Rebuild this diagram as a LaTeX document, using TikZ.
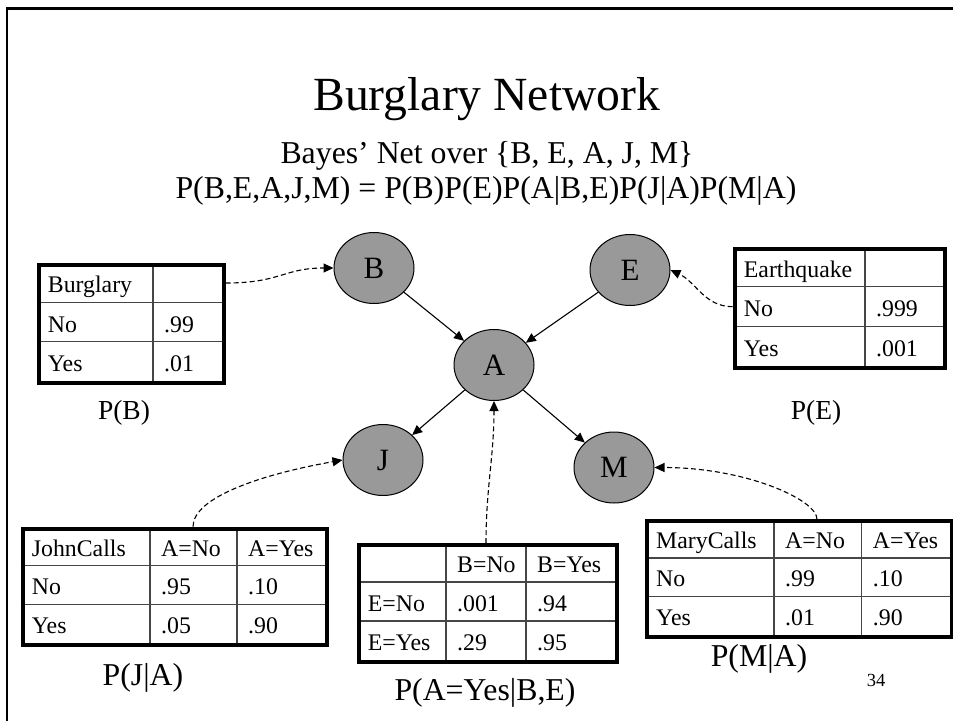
\documentclass[tikz,border=0pt]{standalone}
\usepackage{fontspec}
\setmainfont{Liberation Serif}
\usetikzlibrary{shapes.geometric,arrows.meta}
\definecolor{nodegray}{RGB}{153,153,153}
\definecolor{gridgray}{RGB}{70,70,70}
\newcommand{\fsz}[1]{\fontsize{#1}{#1}\selectfont}
\begin{document}
\begin{tikzpicture}[x=1pt,y=1pt,
  bnode/.style={ellipse,draw=black,line width=1pt,fill=nodegray,minimum width=80pt,minimum height=71pt,inner sep=0pt,font=\fsz{31}},
  arr/.style={-{Triangle[length=10pt,width=9pt]},line width=1.1pt},
  darr/.style={arr,dash pattern=on 5pt off 3pt},
  cell/.style={anchor=base west,inner sep=0pt,font=\fsz{23.8}},
  tframe/.style={draw=black,line width=4pt,inner sep=0pt,anchor=north west},
  gridline/.style={draw=gridgray,line width=1.3pt},
  lbl/.style={anchor=base,inner sep=0pt},
]
\useasboundingbox (0,0) rectangle (953,-721);
% slide frame
\draw[line width=2.6pt] (7,-721) -- (7,-8.6) -- (953,-8.6);

% titles
\node[lbl,font=\fsz{47.6}] (title) at (486.7,-110) {Burglary Network};
\node[lbl,font=\fsz{31.8}] (sub) at (487,-163.5) {Bayes’ Net over \{B, E, A, J, M\}};
\node[lbl,font=\fsz{31.8}] (formula) at (486,-198) {P(B,E,A,J,M) = P(B)P(E)P(A|B,E)P(J|A)P(M|A)};

% network nodes
\node[bnode] (B) at (374,-268) {B};
\node[bnode] (E) at (630,-270) {E};
\node[bnode] (A) at (494,-365) {A};
\node[bnode] (J) at (383,-460) {J};
\node[bnode] (M) at (614,-467.5) {M};

% table P(B)
\begin{scope}[shift={(36.7,-263)}]
  \draw[gridline] (0,-39.3) -- (185,-39.3) (0,-78.7) -- (185,-78.7) (116.3,0) -- (116.3,-118);
  \foreach \x/\y/\n/\t in {11/-29.8/11/Burglary, 11/-69.1/21/No, 127.3/-69.1/22/.99, 11/-108.4/31/Yes, 127.3/-108.4/32/.01}
    \node[cell] (TB-\n) at (\x,\y) {\t};
  \node[tframe,minimum width=185pt,minimum height=118pt] (TB) at (0,0) {};
\end{scope}

% table P(E)
\begin{scope}[shift={(732.7,-247)}]
  \draw[gridline] (0,-39.67) -- (210,-39.67) (0,-79.33) -- (210,-79.33) (132.3,0) -- (132.3,-119);
  \foreach \x/\y/\n/\t in {11/-30.2/11/Earthquake, 11/-69.8/21/No, 143.3/-69.8/22/.999, 11/-109.5/31/Yes, 143.3/-109.5/32/.001}
    \node[cell] (TE-\n) at (\x,\y) {\t};
  \node[tframe,minimum width=210pt,minimum height=119pt] (TE) at (0,0) {};
\end{scope}

% table P(J|A)
\begin{scope}[shift={(20.7,-526.7)}]
  \draw[gridline] (0,-38.77) -- (304.3,-38.77) (0,-77.53) -- (304.3,-77.53) (129.3,0) -- (129.3,-116.3) (216.3,0) -- (216.3,-116.3);
  \foreach \x/\y/\n/\t in {11/-29.3/11/JohnCalls, 140.3/-29.3/12/A=No, 227.3/-29.3/13/A=Yes,
      11/-68/21/No, 140.3/-68/22/.95, 227.3/-68/23/.10,
      11/-106.8/31/Yes, 140.3/-106.8/32/.05, 227.3/-106.8/33/.90}
    \node[cell] (TJ-\n) at (\x,\y) {\t};
  \node[tframe,minimum width=304.3pt,minimum height=116.3pt] (TJ) at (0,0) {};
\end{scope}

% table P(A=Yes|B,E)
\begin{scope}[shift={(356.7,-543)}]
  \draw[gridline] (0,-39) -- (258.3,-39) (0,-78) -- (258.3,-78) (89.3,0) -- (89.3,-117) (169.3,0) -- (169.3,-117);
  \foreach \x/\y/\n/\t in {100.3/-29.5/12/B=No, 180.3/-29.5/13/B=Yes,
      11/-68.5/21/E=No, 100.3/-68.5/22/.001, 180.3/-68.5/23/.94,
      11/-107.5/31/E=Yes, 100.3/-107.5/32/.29, 180.3/-107.5/33/.95}
    \node[cell] (TA-\n) at (\x,\y) {\t};
  \node[tframe,minimum width=258.3pt,minimum height=117pt] (TA) at (0,0) {};
\end{scope}

% table P(M|A)
\begin{scope}[shift={(645,-519.3)}]
  \draw[gridline] (0,-38.57) -- (305,-38.57) (0,-77.13) -- (305,-77.13) (129,0) -- (129,-115.7) (216.7,0) -- (216.7,-115.7);
  \foreach \x/\y/\n/\t in {11/-29.1/11/MaryCalls, 140/-29.1/12/A=No, 227.7/-29.1/13/A=Yes,
      11/-67.6/21/No, 140/-67.6/22/.99, 227.7/-67.6/23/.10,
      11/-106.2/31/Yes, 140/-106.2/32/.01, 227.7/-106.2/33/.90}
    \node[cell] (TM-\n) at (\x,\y) {\t};
  \node[tframe,minimum width=305pt,minimum height=115.7pt] (TM) at (0,0) {};
\end{scope}

% labels
\node[lbl,font=\fsz{27.5}] (PB) at (124,-419) {P(B)};
\node[lbl,font=\fsz{27.5}] (PE) at (816,-419) {P(E)};
\node[lbl,font=\fsz{31.8}] (PJ) at (143,-685) {P(J|A)};
\node[lbl,font=\fsz{31.8}] (PA) at (485,-700.7) {P(A=Yes|B,E)};
\node[lbl,font=\fsz{31.8}] (PM) at (759,-666.7) {P(M|A)};
\node[lbl,font=\fsz{18.5}] (pg) at (876,-686.7) {34};

% network edges
\draw[arr] (B) -- (A);
\draw[arr] (E) -- (A);
\draw[arr] (A) -- (J);
\draw[arr] (A) -- (M);

% table-to-node links
\draw[darr] ([yshift=-20pt]TB.north east) to[out=0,in=180,out distance=55pt,in distance=50pt] (B.west);
\draw[darr] ([yshift=-59.7pt]TE.north west) to[out=180,in=-25] (E.east);
\draw[darr] ([xshift=172.3pt]TJ.north west) to[out=90,in=190,out distance=30pt,in distance=80pt] (J.west);
\draw[darr] ([xshift=129.3pt]TA.north west) to[out=90,in=-90] (A.south);
\draw[darr] ([xshift=172pt]TM.north west) to[out=90,in=0,out distance=20pt,in distance=90pt] (M.east);
\end{tikzpicture}
\end{document}
